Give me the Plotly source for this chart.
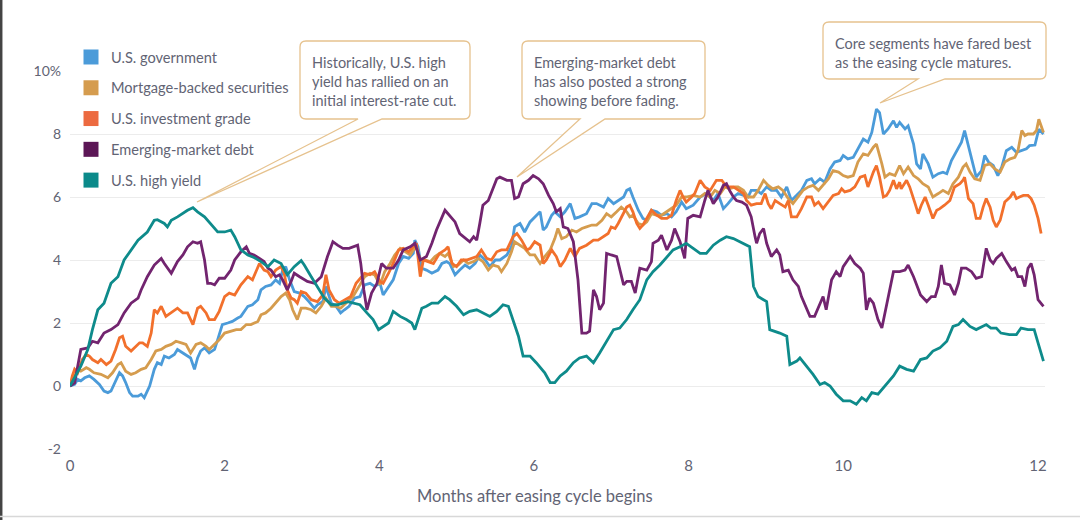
import plotly.graph_objects as go

# ---------------- data (months after easing cycle begins, cumulative return %) ----------------
SERIES_NAMES = ["U.S. government", "Mortgage-backed securities", "U.S. investment grade",
                "Emerging-market debt", "U.S. high yield"]
LINE_COLORS = ["#4b9bd9", "#d59c4e", "#f2702c", "#72246f", "#0e8b8b"]
LEGEND_COLORS = ["#4b9bd9", "#d59c4e", "#ec6a40", "#5c1656", "#0b8a8a"]

GOV = [(0, 0), (0.06, 0.05), (0.10, 0.21), (0.14, 0.16), (0.19, 0.26), (0.25, 0.32), (0.31, 0.21),
       (0.38, 0.05), (0.44, -0.16), (0.49, -0.21), (0.53, -0.16), (0.59, 0.16), (0.64, 0.42),
       (0.68, 0.32), (0.72, 0.11), (0.77, -0.21), (0.81, -0.32), (0.88, -0.32), (0.92, -0.26),
       (0.96, -0.37), (1.03, 0.0), (1.09, 0.53), (1.13, 0.74), (1.18, 0.68), (1.22, 0.95),
       (1.28, 0.89), (1.35, 1.0), (1.39, 1.16), (1.46, 1.05), (1.52, 0.95), (1.56, 0.89),
       (1.61, 0.53), (1.65, 0.89), (1.69, 1.11), (1.74, 1.21), (1.80, 1.05), (1.87, 1.16),
       (1.91, 1.47), (1.97, 1.95), (2.04, 2.0), (2.10, 2.05), (2.17, 2.16), (2.21, 2.21),
       (2.30, 2.53), (2.36, 2.58), (2.43, 2.74), (2.47, 3.05), (2.53, 3.16), (2.60, 3.21),
       (2.66, 3.37), (2.71, 3.26), (2.75, 3.68), (2.79, 3.79), (2.84, 3.37), (2.90, 3.0),
       (2.97, 2.95), (3.03, 2.84), (3.09, 2.68), (3.16, 2.47), (3.20, 2.58), (3.27, 2.68),
       (3.31, 3.16), (3.38, 2.63), (3.44, 2.53), (3.50, 2.32), (3.55, 2.42), (3.61, 2.53),
       (3.68, 2.79), (3.75, 2.84), (3.81, 3.21), (3.88, 3.26), (3.94, 3.16), (4.01, 3.26),
       (4.05, 2.89), (4.12, 3.16), (4.18, 3.37), (4.25, 3.89), (4.31, 4.11), (4.38, 4.05),
       (4.44, 4.21), (4.46, 4.63), (4.50, 4.42), (4.55, 3.74), (4.61, 3.68), (4.68, 3.58),
       (4.76, 3.68), (4.81, 3.89), (4.87, 3.95), (4.91, 3.89), (4.98, 3.53), (5.04, 3.68),
       (5.11, 3.84), (5.17, 3.74), (5.24, 3.89), (5.30, 4.16), (5.37, 4.0), (5.43, 3.79),
       (5.50, 4.0), (5.56, 4.0), (5.65, 4.16), (5.71, 4.42), (5.75, 5.05), (5.82, 5.16),
       (5.88, 4.89), (5.95, 5.21), (6.01, 5.37), (6.08, 5.53), (6.12, 4.95), (6.16, 5.05),
       (6.23, 5.42), (6.27, 5.53), (6.34, 5.37), (6.40, 5.53), (6.47, 5.79), (6.53, 5.32),
       (6.59, 5.37), (6.68, 5.47), (6.75, 5.79), (6.81, 5.79), (6.90, 5.68), (6.96, 5.95),
       (7.03, 5.79), (7.09, 5.89), (7.16, 6.0), (7.20, 6.21), (7.24, 6.26), (7.28, 6.0),
       (7.35, 5.58), (7.41, 5.32), (7.46, 5.26), (7.52, 5.58), (7.59, 5.53), (7.65, 5.42),
       (7.72, 5.47), (7.78, 5.37), (7.84, 5.53), (7.91, 5.84), (7.97, 5.63), (8.06, 5.74),
       (8.15, 6.0), (8.23, 6.11), (8.32, 5.89), (8.38, 6.11), (8.45, 5.63), (8.51, 5.79),
       (8.58, 6.0), (8.64, 6.11), (8.71, 6.05), (8.77, 6.0), (8.81, 6.21), (8.88, 6.21),
       (8.94, 6.11), (9.01, 6.32), (9.07, 6.21), (9.14, 6.21), (9.20, 6.0), (9.27, 6.32),
       (9.33, 5.89), (9.40, 6.05), (9.46, 6.21), (9.53, 6.53), (9.59, 6.58), (9.63, 6.42),
       (9.70, 6.58), (9.76, 6.47), (9.83, 6.89), (9.89, 7.11), (9.96, 7.16), (10.0, 7.32),
       (10.06, 7.21), (10.13, 7.26), (10.19, 7.53), (10.26, 7.84), (10.32, 7.74), (10.37, 8.05),
       (10.43, 8.79), (10.47, 8.68), (10.52, 8.0), (10.58, 8.16), (10.65, 8.42), (10.69, 8.21),
       (10.73, 8.37), (10.80, 8.16), (10.84, 8.26), (10.91, 7.68), (10.95, 7.05), (11.0, 6.89),
       (11.03, 7.37), (11.10, 7.05), (11.16, 6.63), (11.23, 6.74), (11.29, 6.79), (11.34, 6.74),
       (11.40, 7.16), (11.47, 7.47), (11.53, 7.74), (11.57, 8.11), (11.62, 7.63), (11.66, 7.16),
       (11.72, 6.63), (11.79, 6.84), (11.83, 7.32), (11.88, 7.11), (11.94, 7.0), (12.0, 6.68),
       (12.05, 6.95), (12.11, 7.47), (12.18, 7.58), (12.24, 7.42), (12.31, 7.47), (12.37, 7.53),
       (12.41, 7.63), (12.48, 7.65), (12.53, 8.15), (12.59, 8.0)]

MBS = [(0, 0), (0.06, 0.32), (0.10, 0.53), (0.14, 0.47), (0.21, 0.58), (0.25, 0.53), (0.31, 0.42),
       (0.40, 0.37), (0.49, 0.26), (0.55, 0.42), (0.62, 0.68), (0.66, 0.74), (0.72, 0.47),
       (0.79, 0.37), (0.85, 0.42), (0.92, 0.53), (0.98, 0.58), (1.05, 0.84), (1.11, 1.11),
       (1.18, 1.16), (1.24, 1.26), (1.31, 1.32), (1.37, 1.42), (1.44, 1.37), (1.50, 1.32),
       (1.56, 1.05), (1.63, 1.32), (1.69, 1.37), (1.76, 1.26), (1.80, 1.16), (1.87, 1.32),
       (1.93, 1.47), (2.0, 1.68), (2.08, 1.74), (2.15, 1.79), (2.21, 1.79), (2.28, 1.95),
       (2.34, 1.95), (2.43, 2.05), (2.47, 2.26), (2.53, 2.32), (2.60, 2.47), (2.66, 2.63),
       (2.73, 2.84), (2.79, 2.95), (2.84, 2.74), (2.88, 2.42), (2.94, 2.11), (2.99, 2.47),
       (3.05, 2.47), (3.12, 2.42), (3.18, 2.32), (3.25, 2.53), (3.31, 2.79), (3.38, 2.53),
       (3.44, 2.53), (3.50, 2.47), (3.57, 2.63), (3.66, 2.84), (3.75, 3.21), (3.81, 3.47),
       (3.88, 3.58), (3.94, 3.53), (4.01, 3.21), (4.07, 3.63), (4.14, 3.89), (4.20, 4.16),
       (4.27, 4.37), (4.33, 4.26), (4.40, 4.16), (4.44, 4.32), (4.48, 4.42), (4.53, 4.0),
       (4.59, 4.0), (4.66, 3.95), (4.72, 4.11), (4.78, 4.21), (4.85, 4.11), (4.89, 4.21),
       (4.96, 3.79), (5.02, 3.84), (5.09, 4.0), (5.15, 3.89), (5.22, 3.95), (5.28, 4.05),
       (5.34, 3.95), (5.41, 3.68), (5.47, 3.84), (5.54, 3.79), (5.58, 3.63), (5.65, 3.89),
       (5.71, 4.26), (5.75, 4.58), (5.82, 4.47), (5.88, 4.37), (5.95, 4.16), (6.01, 4.16),
       (6.08, 3.89), (6.14, 4.11), (6.21, 4.32), (6.27, 4.68), (6.31, 5.0), (6.36, 4.68),
       (6.42, 4.74), (6.49, 4.95), (6.55, 4.89), (6.62, 5.0), (6.68, 5.05), (6.75, 5.11),
       (6.81, 5.11), (6.88, 5.26), (6.94, 5.47), (7.0, 5.37), (7.07, 5.53), (7.13, 5.68),
       (7.20, 5.53), (7.24, 5.37), (7.28, 5.42), (7.35, 5.16), (7.41, 5.11), (7.46, 5.21),
       (7.52, 5.47), (7.59, 5.42), (7.65, 5.42), (7.72, 5.53), (7.78, 5.63), (7.84, 5.74),
       (7.91, 6.0), (7.97, 6.0), (8.06, 6.05), (8.15, 6.0), (8.21, 6.11), (8.28, 6.0),
       (8.34, 6.21), (8.41, 6.11), (8.47, 6.32), (8.53, 6.26), (8.60, 6.32), (8.64, 6.32),
       (8.71, 6.21), (8.77, 6.0), (8.84, 6.0), (8.90, 6.21), (8.97, 6.53), (9.03, 6.37),
       (9.09, 6.26), (9.16, 6.32), (9.22, 6.21), (9.29, 5.95), (9.35, 5.79), (9.42, 6.0),
       (9.48, 6.21), (9.55, 6.32), (9.61, 6.37), (9.68, 6.21), (9.74, 6.37), (9.81, 6.58),
       (9.87, 6.84), (9.94, 6.79), (10.0, 6.68), (10.06, 6.63), (10.13, 6.68), (10.19, 7.11),
       (10.26, 7.37), (10.32, 7.32), (10.39, 7.58), (10.43, 7.68), (10.50, 7.05), (10.54, 6.63),
       (10.60, 6.74), (10.67, 6.68), (10.73, 7.0), (10.78, 6.74), (10.84, 6.95), (10.91, 6.68),
       (10.97, 6.58), (11.03, 6.42), (11.10, 6.32), (11.16, 6.0), (11.23, 6.11), (11.29, 6.21),
       (11.36, 6.11), (11.42, 6.42), (11.49, 6.63), (11.55, 6.95), (11.59, 7.05), (11.64, 6.79),
       (11.70, 6.58), (11.77, 6.53), (11.83, 7.0), (11.90, 7.05), (11.96, 6.89), (12.03, 6.79),
       (12.09, 7.11), (12.16, 7.21), (12.22, 7.26), (12.26, 7.47), (12.31, 8.11), (12.35, 7.95),
       (12.39, 8.0), (12.46, 8.0), (12.50, 8.11), (12.53, 8.47), (12.59, 8.05)]

IG = [(0, 0), (0.03, 0.32), (0.06, 0.53), (0.10, 0.42), (0.16, 0.84), (0.21, 1.0), (0.25, 0.95),
      (0.29, 0.84), (0.36, 0.74), (0.40, 0.84), (0.47, 0.68), (0.53, 0.79), (0.59, 1.16),
      (0.64, 1.53), (0.68, 1.58), (0.72, 1.26), (0.79, 1.11), (0.83, 1.21), (0.90, 1.37),
      (0.94, 1.37), (1.0, 1.26), (1.05, 1.68), (1.09, 2.42), (1.13, 2.32), (1.18, 2.53),
      (1.24, 2.21), (1.31, 2.32), (1.39, 2.47), (1.46, 2.32), (1.52, 2.32), (1.59, 1.95),
      (1.65, 2.47), (1.69, 2.53), (1.76, 2.32), (1.80, 2.11), (1.87, 2.11), (1.93, 2.37),
      (2.0, 2.84), (2.06, 2.95), (2.13, 2.89), (2.21, 3.21), (2.30, 3.47), (2.36, 3.37),
      (2.45, 3.89), (2.51, 3.68), (2.56, 3.63), (2.60, 3.47), (2.66, 3.68), (2.73, 3.79),
      (2.77, 3.58), (2.81, 3.05), (2.86, 2.79), (2.90, 2.74), (2.94, 2.63), (2.99, 3.0),
      (3.05, 2.95), (3.12, 2.74), (3.20, 2.68), (3.27, 2.89), (3.31, 3.53), (3.35, 3.05),
      (3.42, 2.74), (3.48, 2.63), (3.55, 2.74), (3.63, 2.84), (3.70, 3.26), (3.75, 3.42),
      (3.81, 3.58), (3.88, 3.53), (3.94, 3.63), (4.01, 3.32), (4.05, 3.26), (4.12, 3.58),
      (4.18, 3.89), (4.25, 4.32), (4.31, 4.37), (4.38, 4.26), (4.44, 4.42), (4.48, 4.53),
      (4.53, 3.47), (4.57, 4.0), (4.63, 3.95), (4.70, 3.89), (4.78, 4.21), (4.85, 4.32),
      (4.89, 4.42), (4.94, 3.89), (5.0, 3.79), (5.06, 4.0), (5.13, 4.0), (5.19, 4.05),
      (5.26, 4.11), (5.32, 4.32), (5.39, 4.05), (5.45, 4.0), (5.52, 4.26), (5.58, 4.32),
      (5.65, 4.32), (5.73, 4.74), (5.78, 4.84), (5.84, 4.63), (5.91, 4.32), (5.95, 4.37),
      (6.01, 4.58), (6.08, 4.47), (6.12, 3.89), (6.16, 4.0), (6.23, 4.32), (6.29, 4.11),
      (6.34, 3.79), (6.40, 4.0), (6.47, 4.37), (6.53, 4.11), (6.59, 4.37), (6.68, 4.47),
      (6.77, 4.63), (6.83, 4.63), (6.90, 4.74), (6.96, 4.84), (7.0, 5.05), (7.05, 5.0),
      (7.09, 5.16), (7.16, 5.47), (7.20, 5.68), (7.24, 5.74), (7.28, 5.53), (7.33, 5.16),
      (7.37, 5.0), (7.41, 5.11), (7.46, 5.32), (7.52, 5.58), (7.59, 5.42), (7.65, 5.32),
      (7.72, 5.32), (7.78, 5.42), (7.84, 5.89), (7.89, 6.21), (7.93, 6.0), (7.97, 5.84),
      (8.04, 6.0), (8.08, 6.11), (8.15, 6.53), (8.21, 6.32), (8.28, 6.21), (8.36, 6.53),
      (8.43, 6.53), (8.49, 6.32), (8.58, 6.32), (8.64, 6.21), (8.71, 6.11), (8.75, 5.89),
      (8.81, 5.74), (8.88, 5.79), (8.94, 5.79), (8.99, 6.11), (9.03, 5.79), (9.07, 5.63),
      (9.12, 5.89), (9.18, 5.79), (9.25, 5.68), (9.29, 5.89), (9.33, 5.37), (9.40, 5.37),
      (9.46, 5.63), (9.53, 6.0), (9.59, 6.0), (9.63, 5.74), (9.68, 5.84), (9.74, 5.63),
      (9.81, 5.84), (9.87, 6.05), (9.94, 6.11), (9.98, 6.26), (10.02, 6.16), (10.09, 6.21),
      (10.15, 6.32), (10.22, 6.63), (10.28, 6.68), (10.32, 6.32), (10.39, 6.79), (10.43, 7.0),
      (10.47, 6.63), (10.52, 6.0), (10.56, 6.05), (10.60, 6.21), (10.65, 6.53), (10.69, 6.26),
      (10.73, 6.47), (10.75, 6.26), (10.82, 6.53), (10.86, 6.32), (10.93, 5.79), (10.97, 5.47),
      (11.01, 5.74), (11.06, 6.0), (11.10, 5.74), (11.16, 5.32), (11.21, 5.58), (11.25, 5.63),
      (11.31, 5.74), (11.38, 5.89), (11.44, 6.32), (11.51, 6.42), (11.55, 6.53), (11.57, 6.63),
      (11.62, 5.95), (11.68, 5.79), (11.72, 5.32), (11.77, 5.32), (11.81, 5.68), (11.85, 5.95),
      (11.90, 5.68), (11.94, 5.26), (11.98, 5.05), (12.03, 5.26), (12.09, 5.84), (12.16, 6.0),
      (12.20, 6.16), (12.24, 5.95), (12.28, 6.0), (12.33, 6.05), (12.39, 6.05), (12.43, 5.95),
      (12.47, 5.74), (12.52, 5.32), (12.56, 4.84)]

EM = [(0, 0), (0.06, 0.1), (0.14, 1.16), (0.23, 1.21), (0.29, 1.42), (0.36, 1.37), (0.44, 1.68),
      (0.53, 1.79), (0.62, 1.95), (0.70, 2.32), (0.79, 2.63), (0.88, 2.79), (0.92, 3.05),
      (1.0, 3.47), (1.09, 3.84), (1.18, 4.05), (1.22, 3.89), (1.26, 3.74), (1.31, 3.58),
      (1.39, 3.95), (1.46, 4.16), (1.52, 4.42), (1.59, 4.58), (1.65, 4.53), (1.69, 4.58),
      (1.74, 4.0), (1.78, 3.26), (1.82, 3.26), (1.87, 3.21), (1.93, 3.42), (2.0, 3.42),
      (2.08, 3.68), (2.13, 4.0), (2.21, 4.26), (2.28, 4.42), (2.32, 4.21), (2.38, 4.16),
      (2.45, 4.05), (2.51, 3.95), (2.56, 3.74), (2.60, 3.68), (2.66, 3.47), (2.71, 3.53),
      (2.75, 3.37), (2.81, 3.05), (2.86, 3.32), (2.90, 3.58), (2.97, 3.47), (3.03, 3.37),
      (3.07, 3.32), (3.16, 3.26), (3.25, 3.47), (3.33, 4.11), (3.40, 4.58), (3.46, 4.47),
      (3.53, 4.37), (3.61, 4.37), (3.68, 4.42), (3.72, 4.47), (3.76, 3.9), (3.80, 3.05),
      (3.84, 2.42), (3.90, 2.95), (3.97, 3.26), (4.03, 3.89), (4.09, 3.74), (4.18, 3.74),
      (4.25, 4.0), (4.31, 4.32), (4.40, 4.42), (4.46, 4.53), (4.53, 4.0), (4.61, 4.11),
      (4.68, 4.53), (4.74, 4.95), (4.85, 5.58), (4.91, 5.42), (4.98, 5.21), (5.04, 4.84),
      (5.13, 4.68), (5.17, 4.58), (5.22, 4.74), (5.26, 4.63), (5.30, 5.16), (5.34, 5.74),
      (5.41, 5.89), (5.47, 6.26), (5.52, 6.58), (5.56, 6.63), (5.65, 6.53), (5.71, 6.53),
      (5.75, 5.95), (5.80, 6.0), (5.86, 6.42), (5.93, 6.53), (5.99, 6.68), (6.06, 6.58),
      (6.12, 6.42), (6.19, 6.05), (6.25, 5.79), (6.29, 5.53), (6.34, 5.63), (6.38, 5.05),
      (6.44, 5.0), (6.51, 4.58), (6.57, 3.37), (6.62, 1.68), (6.68, 1.68), (6.72, 1.74),
      (6.77, 3.05), (6.81, 2.84), (6.85, 2.42), (6.90, 2.63), (6.94, 4.21), (7.0, 4.16),
      (7.07, 4.11), (7.16, 3.21), (7.20, 3.32), (7.26, 3.32), (7.31, 2.95), (7.37, 3.74),
      (7.46, 3.68), (7.52, 3.95), (7.54, 4.53), (7.61, 4.63), (7.65, 4.79), (7.72, 4.32),
      (7.78, 4.63), (7.82, 5.0), (7.89, 4.58), (7.95, 4.05), (7.99, 5.32), (8.06, 5.42),
      (8.15, 5.37), (8.21, 5.89), (8.25, 6.21), (8.32, 5.79), (8.38, 6.0), (8.45, 6.37),
      (8.49, 6.42), (8.53, 6.21), (8.58, 6.0), (8.62, 5.89), (8.69, 5.84), (8.75, 5.74),
      (8.81, 5.37), (8.86, 4.74), (8.88, 4.53), (8.92, 4.84), (8.97, 5.0), (9.01, 4.53),
      (9.07, 4.11), (9.14, 4.32), (9.18, 4.16), (9.22, 3.63), (9.29, 3.68), (9.35, 3.37),
      (9.42, 3.16), (9.46, 2.84), (9.50, 2.63), (9.57, 2.21), (9.63, 2.21), (9.70, 2.63),
      (9.74, 2.84), (9.78, 2.42), (9.85, 3.37), (9.91, 3.63), (9.96, 3.47), (10.0, 3.79),
      (10.09, 4.11), (10.15, 3.89), (10.22, 3.74), (10.26, 3.58), (10.30, 2.42), (10.34, 2.79),
      (10.39, 2.63), (10.45, 2.11), (10.50, 1.84), (10.54, 2.32), (10.58, 2.84), (10.65, 3.63),
      (10.73, 3.63), (10.80, 3.68), (10.84, 3.84), (10.91, 3.47), (11.0, 2.89), (11.08, 2.68),
      (11.14, 2.84), (11.19, 2.84), (11.23, 3.16), (11.27, 3.84), (11.31, 3.26), (11.38, 3.21),
      (11.44, 2.89), (11.49, 3.26), (11.53, 3.74), (11.59, 3.74), (11.66, 3.63), (11.72, 3.42),
      (11.79, 3.47), (11.85, 4.37), (11.90, 4.0), (11.94, 3.89), (11.98, 4.05), (12.05, 4.21),
      (12.11, 3.95), (12.18, 3.68), (12.22, 3.74), (12.26, 3.47), (12.31, 3.47), (12.35, 3.16),
      (12.39, 3.74), (12.43, 3.89), (12.47, 3.53), (12.52, 2.74), (12.59, 2.53)]

HY = [(0, 0), (0.14, 0.63), (0.23, 1.16), (0.29, 1.79), (0.36, 2.42), (0.44, 2.63), (0.53, 3.26),
      (0.62, 3.47), (0.70, 4.0), (0.79, 4.32), (0.88, 4.63), (1.0, 4.89), (1.09, 5.26),
      (1.13, 5.28), (1.22, 5.16), (1.26, 5.05), (1.31, 5.26), (1.39, 5.37), (1.48, 5.53),
      (1.52, 5.58), (1.59, 5.66), (1.65, 5.53), (1.74, 5.37), (1.82, 5.16), (1.91, 4.89),
      (2.0, 4.89), (2.08, 4.95), (2.13, 4.74), (2.21, 4.32), (2.30, 4.16), (2.38, 4.08),
      (2.47, 3.95), (2.56, 3.79), (2.64, 4.0), (2.73, 3.89), (2.81, 3.53), (2.90, 3.79),
      (2.99, 3.98), (3.03, 3.84), (3.12, 3.47), (3.20, 3.16), (3.29, 2.79), (3.38, 2.58),
      (3.46, 2.58), (3.59, 2.68), (3.75, 2.58), (3.84, 2.32), (3.92, 2.11), (3.99, 1.79),
      (4.05, 1.89), (4.12, 2.0), (4.18, 2.37), (4.27, 2.21), (4.35, 2.11), (4.42, 2.0),
      (4.46, 1.79), (4.55, 2.47), (4.61, 2.53), (4.68, 2.63), (4.76, 2.63), (4.85, 2.84),
      (4.91, 2.74), (5.0, 2.53), (5.09, 2.26), (5.17, 2.37), (5.26, 2.42), (5.34, 2.32),
      (5.43, 2.21), (5.52, 2.37), (5.60, 2.58), (5.67, 2.53), (5.73, 2.11), (5.80, 1.58),
      (5.86, 0.95), (5.95, 0.95), (6.03, 0.74), (6.14, 0.42), (6.21, 0.11), (6.27, 0.11),
      (6.34, 0.32), (6.42, 0.47), (6.51, 0.74), (6.59, 0.89), (6.68, 0.95), (6.77, 0.74),
      (6.85, 1.05), (6.94, 1.42), (7.03, 1.79), (7.11, 1.84), (7.20, 2.11), (7.28, 2.42),
      (7.37, 2.74), (7.46, 3.37), (7.54, 3.63), (7.63, 3.84), (7.72, 4.11), (7.80, 4.32),
      (7.89, 4.42), (7.97, 4.53), (8.06, 4.37), (8.15, 4.21), (8.23, 4.21), (8.32, 4.47),
      (8.41, 4.63), (8.49, 4.74), (8.58, 4.68), (8.66, 4.58), (8.75, 4.47), (8.79, 4.42),
      (8.84, 3.16), (8.90, 2.84), (9.01, 2.68), (9.05, 1.79), (9.18, 1.68), (9.27, 1.58),
      (9.31, 0.68), (9.40, 0.79), (9.44, 0.89), (9.53, 0.63), (9.61, 0.37), (9.70, 0.05),
      (9.76, 0.11), (9.83, 0.0), (9.91, -0.26), (10.0, -0.47), (10.09, -0.47), (10.17, -0.58),
      (10.24, -0.37), (10.30, -0.47), (10.37, -0.21), (10.45, -0.26), (10.56, 0.05),
      (10.65, 0.32), (10.73, 0.63), (10.82, 0.53), (10.91, 0.47), (11.0, 0.84), (11.08, 0.89),
      (11.16, 1.11), (11.25, 1.21), (11.34, 1.42), (11.42, 1.89), (11.49, 1.95), (11.55, 2.11),
      (11.64, 1.89), (11.72, 1.79), (11.81, 1.89), (11.85, 1.95), (11.91, 1.84), (11.98, 1.84),
      (12.04, 1.68), (12.15, 1.63), (12.24, 1.63), (12.30, 1.84), (12.39, 1.79), (12.47, 1.79),
      (12.52, 1.37), (12.59, 0.79)]

ALL_SERIES = [GOV, MBS, IG, EM, HY]

X_TICK_VALS = [0, 2, 4, 6, 8, 10, 12.52]
X_TICK_TEXT = ["0", "2", "4", "6", "8", "10", "12"]
Y_TICK_VALS = [-2, 0, 2, 4, 6, 8, 10]
Y_TICK_TEXT = ["-2", "0", "2", "4", "6", "8", "10%"]
X_TITLE = "Months after easing cycle begins"

CALLOUTS = [
    "Historically, U.S. high<br>yield has rallied on an<br>initial interest-rate cut.",
    "Emerging-market debt<br>has also posted a strong<br>showing before fading.",
    "Core segments have fared best<br>as the easing cycle matures.",
]

# ---------------- layout geometry (pixels) ----------------
W, H = 1080, 520
ML, MR, MT, MB = 70, 35, 71, 71
PW, PH = W - ML - MR, H - MT - MB
FONT = "Lato, 'Open Sans', sans-serif"
TXT = "#626474"
BOX_LINE = "#e6c28e"


def paper(px, py):
    return (px - ML) / PW, (H - MB - py) / PH


def callout_path(x0, y0, x1, y1, tb0, tb1, tip, r=6):
    def f(px, py):
        u, v = paper(px, py)
        return f"{u:.5f},{v:.5f}"
    segs = [
        "M" + f(x0 + r, y0),
        "L" + f(x1 - r, y0),
        "Q" + f(x1, y0) + " " + f(x1, y0 + r),
        "L" + f(x1, y1 - r),
        "Q" + f(x1, y1) + " " + f(x1 - r, y1),
        "L" + f(tb1, y1),
        "L" + f(tip[0], tip[1]),
        "L" + f(tb0, y1),
        "L" + f(x0 + r, y1),
        "Q" + f(x0, y1) + " " + f(x0, y1 - r),
        "L" + f(x0, y0 + r),
        "Q" + f(x0, y0) + " " + f(x0 + r, y0),
    ]
    return " ".join(segs) + " Z"


fig = go.Figure()

for name, col, ser in zip(SERIES_NAMES, LINE_COLORS, ALL_SERIES):
    fig.add_trace(go.Scatter(
        x=[p[0] for p in ser], y=[p[1] for p in ser], mode="lines", name=name,
        line=dict(color=col, width=2.8), showlegend=False, hoverinfo="skip"))

for i, (name, col) in enumerate(zip(SERIES_NAMES, LEGEND_COLORS)):
    fig.add_trace(go.Scatter(
        x=[None], y=[None], mode="markers", name=name, legendgroup=f"g{i}",
        marker=dict(symbol="square", size=15, color=col), showlegend=True))

# callout boxes
boxes = [
    dict(box=(300, 41, 470, 119), tail=(358, 382), tip=(197, 202), text=(310, 52)),
    dict(box=(522, 41, 705, 119), tail=(580, 605), tip=(517, 177), text=(532, 52)),
    dict(box=(823, 22, 1046, 79), tail=(918, 945), tip=(880, 103), text=(833, 33)),
]
shapes = []
annotations = []
for b, txt in zip(boxes, CALLOUTS):
    x0, y0, x1, y1 = b["box"]
    shapes.append(dict(type="path", xref="paper", yref="paper",
                       path=callout_path(x0, y0, x1, y1, b["tail"][0], b["tail"][1], b["tip"]),
                       fillcolor="white", line=dict(color=BOX_LINE, width=1.3), layer="above"))
    tx, ty = paper(*b["text"])
    annotations.append(dict(xref="paper", yref="paper", x=tx, y=ty, xanchor="left", yanchor="top",
                            align="left", showarrow=False, text=txt,
                            font=dict(family=FONT, size=14.5, color=TXT)))

# frame lines of the original graphic
lx0, _ = paper(1.2, 0)
_, ly0 = paper(0, 0)
_, ly1 = paper(0, H)
shapes.append(dict(type="line", xref="paper", yref="paper", x0=lx0, x1=lx0, y0=ly1, y1=ly0,
                   line=dict(color="#444444", width=2.5), layer="above"))
bx0, by = paper(0, 516.5)
bx1, _ = paper(W, 516.5)
shapes.append(dict(type="line", xref="paper", yref="paper", x0=bx0, x1=bx1, y0=by, y1=by,
                   line=dict(color="#d8d8d8", width=1.5), layer="above"))

tx, ty = paper(535, 496)
annotations.append(dict(xref="paper", yref="paper", x=tx, y=ty, xanchor="center", yanchor="middle",
                        showarrow=False, text=X_TITLE, font=dict(family=FONT, size=16.5, color=TXT)))

lgx, lgy = paper(71, 41)
fig.update_layout(
    width=W, height=H,
    margin=dict(l=ML, r=MR, t=MT, b=MB, pad=0),
    paper_bgcolor="white", plot_bgcolor="white",
    font=dict(family=FONT, size=14, color=TXT),
    showlegend=True,
    legend=dict(x=lgx, y=lgy, xanchor="left", yanchor="top", bgcolor="rgba(0,0,0,0)",
                font=dict(family=FONT, size=14.6, color=TXT), tracegroupgap=8.8,
                itemclick=False, itemdoubleclick=False),
    shapes=shapes, annotations=annotations,
    xaxis=dict(range=[0, 12.61], tickvals=X_TICK_VALS, ticktext=X_TICK_TEXT, showgrid=False,
               zeroline=False, showline=False, ticks="", ticklabelstandoff=6,
               tickfont=dict(family=FONT, size=15, color=TXT), fixedrange=True),
    yaxis=dict(range=[-2, 10], tickvals=Y_TICK_VALS, ticktext=Y_TICK_TEXT, showgrid=True,
               gridcolor="#ececec", gridwidth=1, zeroline=False, showline=False, ticks="",
               ticklabelstandoff=8, tickfont=dict(family=FONT, size=14, color=TXT),
               fixedrange=True),
)

fig.write_html("out.html", config={"displayModeBar": False},
               post_script="document.body.style.margin='0';document.body.style.overflow='hidden';")
